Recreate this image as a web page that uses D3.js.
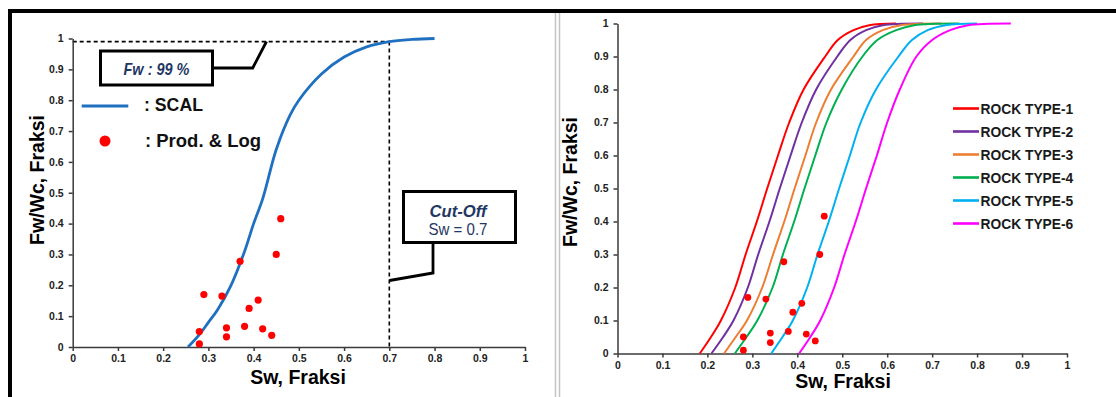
<!DOCTYPE html>
<html><head><meta charset="utf-8">
<script src="https://cdnjs.cloudflare.com/ajax/libs/d3/7.8.5/d3.min.js"></script>
<style>
html,body{margin:0;padding:0;background:#fff;}
svg{display:block;font-family:"Liberation Sans",Arial,sans-serif;}
</style></head>
<body><svg id="c" width="1116" height="397"></svg>
<script>
// ---------- DATA ----------
const tickValues = [0,0.1,0.2,0.3,0.4,0.5,0.6,0.7,0.8,0.9,1];
const tickLabels = ["0","0.1","0.2","0.3","0.4","0.5","0.6","0.7","0.8","0.9","1"];

// SCAL fractional-flow curve (left chart)
const scalSw = [0.255,0.28,0.30,0.32,0.35,0.38,0.40,0.42,0.45,0.48,0.50,0.55,0.60,0.65,0.70,0.75,0.80];
const scalFw = [0,0.04,0.08,0.12,0.20,0.31,0.40,0.48,0.64,0.75,0.80,0.885,0.94,0.973,0.99,0.997,1.0];

// Production & log points
const prodSw = [0.29,0.33,0.37,0.28,0.28,0.34,0.34,0.38,0.39,0.41,0.42,0.44,0.45,0.46];
const prodFw = [0.17,0.165,0.278,0.05,0.01,0.062,0.033,0.067,0.125,0.152,0.059,0.038,0.30,0.416];

// Rock type curves (right chart): Sw at each Fw level
const rockFw  = [0,0.05,0.1,0.2,0.3,0.4,0.5,0.6,0.7,0.8,0.9,0.95,0.98,0.995,1.0];
const rock1Sw = [0.183,0.208,0.230,0.262,0.285,0.310,0.333,0.357,0.382,0.414,0.462,0.490,0.525,0.560,0.620];
const rock2Sw = [0.209,0.235,0.258,0.290,0.313,0.338,0.361,0.385,0.410,0.442,0.489,0.518,0.553,0.590,0.680];
const rock3Sw = [0.237,0.263,0.288,0.322,0.346,0.371,0.394,0.418,0.442,0.475,0.525,0.553,0.590,0.630,0.720];
const rock4Sw = [0.261,0.287,0.311,0.345,0.368,0.393,0.416,0.440,0.465,0.499,0.545,0.578,0.620,0.660,0.760];
const rock5Sw = [0.342,0.367,0.390,0.422,0.445,0.470,0.493,0.517,0.541,0.575,0.625,0.655,0.690,0.730,0.800];
const rock6Sw = [0.404,0.429,0.451,0.482,0.505,0.530,0.553,0.577,0.600,0.628,0.665,0.700,0.740,0.780,0.875];
const rockNames  = ["ROCK TYPE-1","ROCK TYPE-2","ROCK TYPE-3","ROCK TYPE-4","ROCK TYPE-5","ROCK TYPE-6"];
const rockColors = ["#ff0000","#7030a0","#ed7d31","#00b050","#00b0f0","#ff00ff"];
const rockSw = [rock1Sw,rock2Sw,rock3Sw,rock4Sw,rock5Sw,rock6Sw];

const cutOffSw = 0.7, cutOffFw = 0.99;

// ---------- DRAW ----------
const svg = d3.select("#c");

// frame
svg.append("line").attr("x1",8).attr("x2",1116).attr("y1",11).attr("y2",11).attr("stroke","#000").attr("stroke-width",4);
svg.append("line").attr("x1",10).attr("x2",10).attr("y1",9).attr("y2",397).attr("stroke","#000").attr("stroke-width",4);
svg.append("line").attr("x1",555.5).attr("x2",555.5).attr("y1",13).attr("y2",397).attr("stroke","#c4c4c4").attr("stroke-width",1.5);
svg.append("line").attr("x1",559.5).attr("x2",559.5).attr("y1",13).attr("y2",397).attr("stroke","#c4c4c4").attr("stroke-width",1.5);

function axes(g, x, y){
  const fmt = d => tickLabels[tickValues.indexOf(d)];
  const ax = g.append("g").attr("transform",`translate(0,${y(0)})`)
    .call(d3.axisBottom(x).tickValues(tickValues).tickFormat(fmt).tickSize(4).tickSizeOuter(0).tickPadding(4));
  const ay = g.append("g").attr("transform",`translate(${x(0)},0)`)
    .call(d3.axisLeft(y).tickValues(tickValues).tickFormat(fmt).tickSize(4).tickSizeOuter(0).tickPadding(5));
  [ax,ay].forEach(a=>{
    a.attr("font-family","'Liberation Sans',Arial,sans-serif").attr("font-size",10.5);
    a.selectAll("path,line").attr("stroke","#3a3a3a").attr("stroke-width",1.5);
    a.selectAll("text").attr("fill","#222").attr("font-size",10.5).attr("font-weight","bold");
  });
}

// ---- LEFT CHART ----
const xL = d3.scaleLinear().domain([0,1]).range([72.7,525]);
const yL = d3.scaleLinear().domain([0,1]).range([347,38.5]);
const gL = svg.append("g");

// dashed cut-off lines
gL.append("line").attr("x1",xL(0)).attr("x2",xL(cutOffSw)).attr("y1",yL(cutOffFw)).attr("y2",yL(cutOffFw))
  .attr("stroke","#000").attr("stroke-width",1.6).attr("stroke-dasharray","4,3");
gL.append("line").attr("x1",xL(cutOffSw)).attr("x2",xL(cutOffSw)).attr("y1",yL(cutOffFw)).attr("y2",yL(0))
  .attr("stroke","#000").attr("stroke-width",1.6).attr("stroke-dasharray","4,3");

axes(gL, xL, yL);

const lineL = d3.line().x(d=>xL(d[0])).y(d=>yL(d[1])).curve(d3.curveCatmullRom.alpha(0.5));
gL.append("path").datum(scalSw.map((s,i)=>[s,scalFw[i]])).attr("d",lineL)
  .attr("fill","none").attr("stroke","#1f70c1").attr("stroke-width",2.8);

gL.selectAll("circle.p").data(prodSw.map((s,i)=>[s,prodFw[i]])).enter().append("circle")
  .attr("cx",d=>xL(d[0])).attr("cy",d=>yL(d[1])).attr("r",3.6).attr("fill","#ff0000");

// Fw 99% callout
gL.append("rect").attr("x",100.5).attr("y",51).attr("width",112).attr("height",34)
  .attr("fill","#fff").attr("stroke","#000").attr("stroke-width",3);
gL.append("text").attr("x",156.5).attr("y",74.5).attr("text-anchor","middle")
  .attr("font-size",17).attr("font-weight","bold").attr("font-style","italic").attr("fill","#1f3864")
  .attr("textLength",66).attr("lengthAdjust","spacingAndGlyphs").text("Fw : 99 %");
gL.append("path").attr("d","M214,68 L252.7,68 L266.5,41.5").attr("fill","none").attr("stroke","#000").attr("stroke-width",2.8);

// Cut-off callout
gL.append("rect").attr("x",403.5).attr("y",191.5).attr("width",112).attr("height",51)
  .attr("fill","#fff").attr("stroke","#000").attr("stroke-width",3);
gL.append("text").attr("x",458).attr("y",217).attr("text-anchor","middle")
  .attr("font-size",17).attr("font-weight","bold").attr("font-style","italic").attr("fill","#1f3864")
  .attr("textLength",57).attr("lengthAdjust","spacingAndGlyphs").text("Cut-Off");
gL.append("text").attr("x",458).attr("y",235).attr("text-anchor","middle")
  .attr("font-size",17).attr("fill","#1f3864")
  .attr("textLength",59).attr("lengthAdjust","spacingAndGlyphs").text("Sw = 0.7");
gL.append("path").attr("d","M433,243 L433,273 L389.5,280.5").attr("fill","none").attr("stroke","#000").attr("stroke-width",2.8);

// legend (left)
gL.append("line").attr("x1",81.7).attr("x2",128.3).attr("y1",106).attr("y2",106).attr("stroke","#1f70c1").attr("stroke-width",2.8);
gL.append("text").attr("x",144).attr("y",111).attr("font-size",19).attr("font-weight","bold").attr("fill","#111")
  .attr("textLength",59).attr("lengthAdjust","spacingAndGlyphs").text(": SCAL");
gL.append("circle").attr("cx",105).attr("cy",141).attr("r",5.5).attr("fill","#ff0000");
gL.append("text").attr("x",145).attr("y",146.5).attr("font-size",19).attr("font-weight","bold").attr("fill","#111")
  .attr("textLength",116).attr("lengthAdjust","spacingAndGlyphs").text(": Prod. & Log");

// titles (left)
gL.append("text").attr("x",298).attr("y",384).attr("text-anchor","middle").attr("font-size",19.5)
  .attr("font-weight","bold").attr("fill","#000").text("Sw, Fraksi");
gL.append("text").attr("transform","translate(44,180) rotate(-90)").attr("text-anchor","middle")
  .attr("font-size",19.5).attr("font-weight","bold").attr("fill","#000").text("Fw/Wc, Fraksi");

// ---- RIGHT CHART ----
const xR = d3.scaleLinear().domain([0,1]).range([617.5,1067]);
const yR = d3.scaleLinear().domain([0,1]).range([353.5,23.5]);
const gR = svg.append("g");
axes(gR, xR, yR);

const lineR = d3.line().x(d=>xR(d[0])).y(d=>yR(d[1])).curve(d3.curveCatmullRom.alpha(0.5));
rockSw.forEach((arr,k)=>{
  gR.append("path").datum(arr.map((s,i)=>[s,rockFw[i]])).attr("d",lineR)
    .attr("fill","none").attr("stroke",rockColors[k]).attr("stroke-width",2);
});
gR.selectAll("circle.p").data(prodSw.map((s,i)=>[s,prodFw[i]])).enter().append("circle")
  .attr("cx",d=>xR(d[0])).attr("cy",d=>yR(d[1])).attr("r",3.4).attr("fill","#ff0000");

// legend (right)
rockNames.forEach((n,k)=>{
  const yy = 108.5 + k*23;
  gR.append("line").attr("x1",953).attr("x2",979).attr("y1",yy).attr("y2",yy).attr("stroke",rockColors[k]).attr("stroke-width",2.6);
  gR.append("text").attr("x",980.5).attr("y",yy+5).attr("font-size",13.8).attr("font-weight","bold").attr("fill","#1a1a1a").text(n);
});

gR.append("text").attr("x",843).attr("y",388).attr("text-anchor","middle").attr("font-size",19.5)
  .attr("font-weight","bold").attr("fill","#000").text("Sw, Fraksi");
gR.append("text").attr("transform","translate(577,182) rotate(-90)").attr("text-anchor","middle")
  .attr("font-size",19.5).attr("font-weight","bold").attr("fill","#000").text("Fw/Wc, Fraksi");
</script></body></html>
